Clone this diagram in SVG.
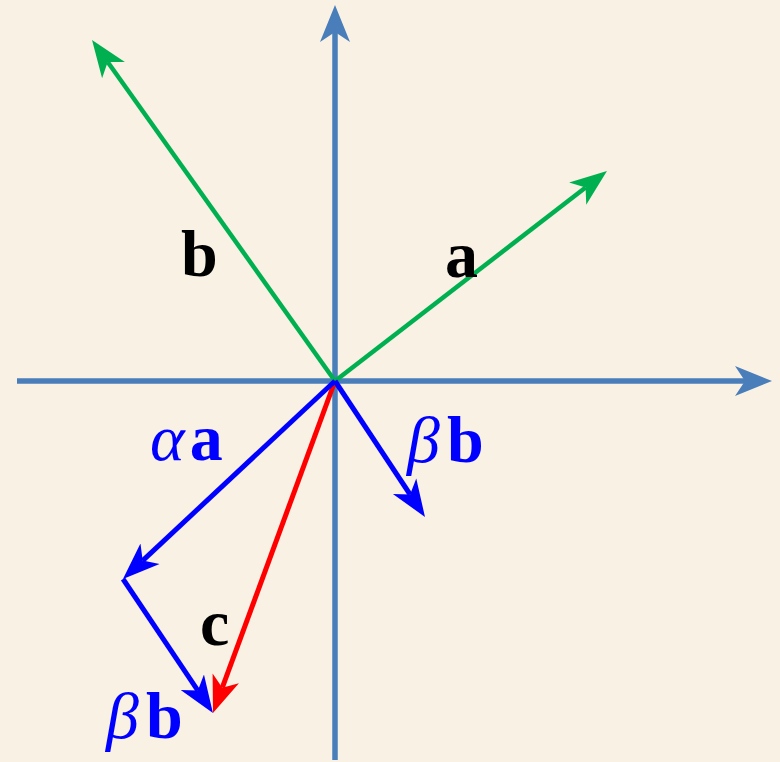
<svg xmlns="http://www.w3.org/2000/svg" width="780" height="762" viewBox="0 0 780 762">
<style>
.ax{stroke:#4a7ebb;stroke-width:5.5;fill:none}
.gr{stroke:#00b050;stroke-width:4.5;fill:none}
.bl{stroke:#0000ff;stroke-width:5;fill:none}
.rd{stroke:#ff0000;stroke-width:5;fill:none}
.lbl{font-family:"Liberation Serif","DejaVu Serif",serif;font-weight:bold;font-size:66px}
.gk{font-style:italic;font-weight:normal}
</style>
<defs>
<marker id="mAx" markerUnits="userSpaceOnUse" markerWidth="40" markerHeight="32" viewBox="0 -16 40 32" refX="10" refY="0" orient="auto"><path d="M0,-15 L37,0 L0,15 L10,0 Z" fill="#4a7ebb"/></marker>
<marker id="mGr" markerUnits="userSpaceOnUse" markerWidth="40" markerHeight="32" viewBox="0 -16 40 32" refX="10" refY="0" orient="auto"><path d="M0,-14 L37,0 L0,14 L10,0 Z" fill="#00b050"/></marker>
<marker id="mBl" markerUnits="userSpaceOnUse" markerWidth="40" markerHeight="32" viewBox="0 -16 40 32" refX="10" refY="0" orient="auto"><path d="M0,-14 L37,0 L0,14 L10,0 Z" fill="#0000ff"/></marker>
<marker id="mRd" markerUnits="userSpaceOnUse" markerWidth="40" markerHeight="32" viewBox="0 -16 40 32" refX="10" refY="0" orient="auto"><path d="M0,-14 L37,0 L0,14 L10,0 Z" fill="#ff0000"/></marker>
</defs>
<rect width="780" height="762" fill="#f8f1e4"/>
<g id="connectors">
<line id="axis-y" class="ax" x1="335" y1="760" x2="335" y2="32" marker-end="url(#mAx)"/>
<line id="axis-x" class="ax" x1="17" y1="381" x2="745" y2="381" marker-end="url(#mAx)"/>
<line id="vec-a" class="gr" x1="335" y1="381" x2="585.6" y2="187.5" marker-end="url(#mGr)"/>
<line id="vec-b" class="gr" x1="335" y1="381" x2="107.7" y2="62" marker-end="url(#mGr)"/>
<line id="vec-c" class="rd" x1="335" y1="381" x2="222.3" y2="687.7" marker-end="url(#mRd)"/>
<line id="vec-alpha-a" class="bl" x1="335" y1="381" x2="142.7" y2="560.6" marker-end="url(#mBl)"/>
<line id="vec-beta-b-2" class="bl" x1="123" y1="579" x2="197.9" y2="690.6" marker-end="url(#mBl)"/>
<line id="vec-beta-b-1" class="bl" x1="335" y1="381" x2="410.1" y2="494.5" marker-end="url(#mBl)"/>
</g>
<g id="label-b"><text class="lbl" x="181" y="276" fill="#000">b</text></g>
<g id="label-a"><text class="lbl" x="445" y="277" fill="#000">a</text></g>
<g id="label-c"><text class="lbl" x="200" y="645" fill="#000">c</text></g>
<g id="label-alpha-a"><text class="lbl" x="150" y="460" fill="#0000ff"><tspan class="gk">α</tspan><tspan dx="5">a</tspan></text></g>
<g id="label-beta-b-1"><text class="lbl" x="407" y="462" fill="#0000ff"><tspan class="gk">β</tspan><tspan dx="7">b</tspan></text></g>
<g id="label-beta-b-2"><text class="lbl" x="106" y="738" fill="#0000ff"><tspan class="gk">β</tspan><tspan dx="7">b</tspan></text></g>
</svg>
